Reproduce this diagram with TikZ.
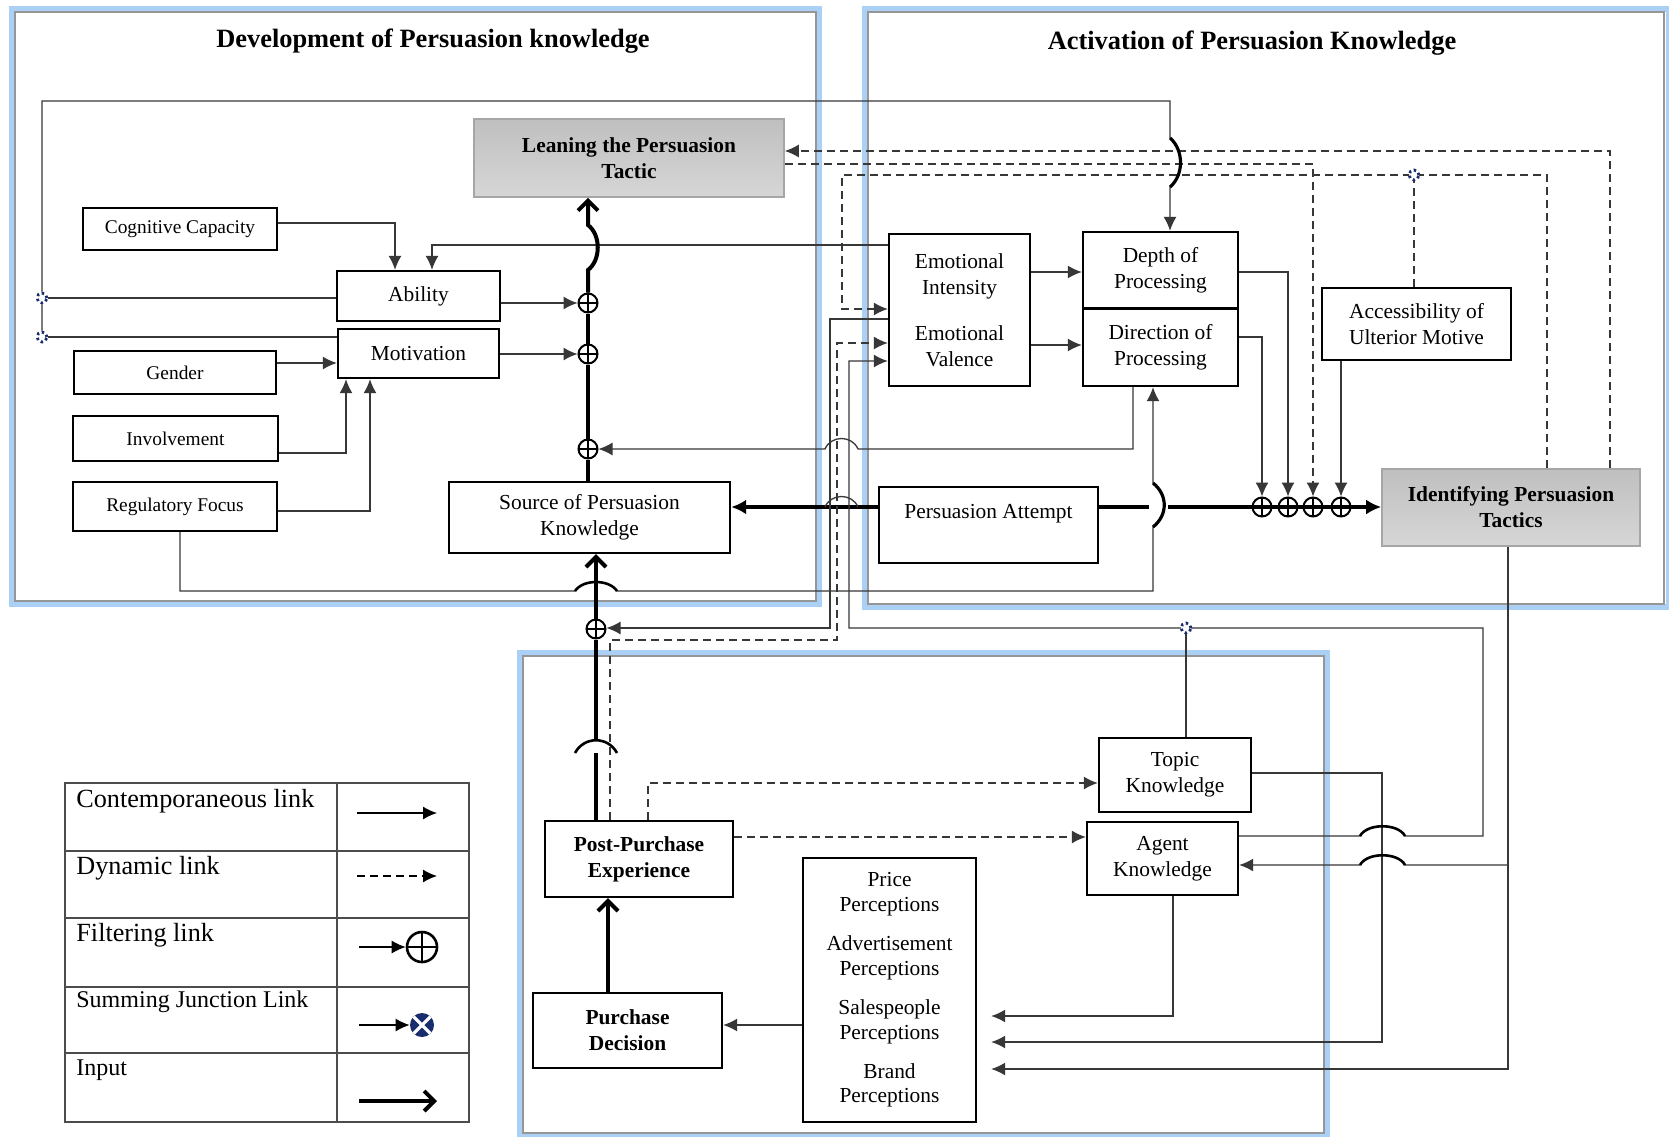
\documentclass[tikz,border=0pt]{standalone}
\usepackage{fontspec}
\setmainfont{Liberation Serif}
\usetikzlibrary{arrows.meta,calc}
\definecolor{lc}{RGB}{55,55,55}
\definecolor{panelblue}{RGB}{170,208,245}
\definecolor{panelgray}{RGB}{150,150,150}
\definecolor{navyj}{RGB}{25,45,110}
\begin{document}
\begin{tikzpicture}[x=0.5pt,y=-0.5pt,
  box/.style={draw=black, line width=1.2pt, fill=white, inner sep=1pt, align=center, font=\fontsize{10.7}{13}\selectfont},
  sbox/.style={box, font=\fontsize{9.7}{12}\selectfont},
  bbox/.style={box, font=\bfseries\fontsize{10.7}{13}\selectfont},
  gbox/.style={draw=black!35, line width=0.8pt, top color=black!25, bottom color=black!16, inner sep=1pt, align=center, font=\bfseries\fontsize{10.7}{13}\selectfont},
  txt/.style={inner sep=0pt, font=\fontsize{10.7}{13}\selectfont},
  title/.style={inner sep=0pt, font=\bfseries\fontsize{13.2}{15}\selectfont},
  leg/.style={inner sep=0pt, anchor=west, font=\fontsize{13.1}{15}\selectfont},
  legs/.style={inner sep=0pt, anchor=west, font=\fontsize{12}{14}\selectfont},
  ln/.style={draw=lc, line width=0.65pt},
  arr/.style={ln, -{Latex[length=7pt,width=6.5pt]}},
  dsh/.style={dash pattern=on 4pt off 2.5pt},
  inp/.style={draw=black, line width=2pt},
  barb/.style={inp, -{Straight Barb[length=5pt,width=10pt]}},
  inpf/.style={inp, -{Latex[length=7.5pt,width=7.5pt]}},
  hop/.style={draw=black, line width=1.3pt},
  filt/.style={circle, draw=black, line width=1pt, minimum size=9.5pt, inner sep=0pt,
    path picture={\draw[line width=1pt] (path picture bounding box.north) -- (path picture bounding box.south)
      (path picture bounding box.west) -- (path picture bounding box.east);}},
  sj/.style={circle, draw=navyj, line width=1.4pt, dash pattern=on 1.2pt off 1.5pt, minimum size=5pt, inner sep=0pt, fill=white},
  panelglow/.style={draw=panelblue, line width=3pt},
  panelline/.style={draw=panelgray, line width=0.8pt}
]
\useasboundingbox (0,0) rectangle (1669,1136);
\fill[white] (0,0) rectangle (1669,1136);

% panels
\draw[panelglow] (12,9) rectangle (819,604);
\draw[panelline] (15,12) rectangle (816,601);
\draw[panelglow] (865,9) rectangle (1669,607);
\draw[panelline] (868,12) rectangle (1664,604);
\draw[panelglow] (520,653) rectangle (1327,1136);
\draw[panelline] (523,656) rectangle (1324,1133);

% titles
\node[title] (t1) at (433,41) {Development of Persuasion knowledge};
\node[title] (t2) at (1252,43) {Activation of Persuasion Knowledge};

% boxes
\node[gbox, minimum width=155pt, minimum height=39pt] (leaning) at (629,158) {Leaning the Persuasion\\Tactic};
\node[sbox, minimum width=97pt, minimum height=21pt] (cogcap) at (180,229) {Cognitive Capacity};
\node[box, minimum width=81.5pt, minimum height=25pt] (ability) at (418.5,296) {Ability};
\node[box, minimum width=80.5pt, minimum height=24.5pt] (motivation) at (418.5,353.5) {Motivation};
\node[sbox, minimum width=101pt, minimum height=21.5pt] (gender) at (175,372.5) {Gender};
\node[sbox, minimum width=102.5pt, minimum height=22.5pt] (involvement) at (175.5,438.5) {Involvement};
\node[sbox, minimum width=102pt, minimum height=24.5pt] (regfocus) at (175,506.5) {Regulatory Focus};
\node[box, minimum width=140.5pt, minimum height=35.5pt] (source) at (589.5,517.5) {Source of Persuasion\\Knowledge};
\node[box, minimum width=70.5pt, minimum height=76pt] (emo) at (959.5,310) {Emotional\\Intensity\\[10pt]Emotional\\Valence};
\node[box, minimum width=77.5pt, minimum height=38pt] (depth) at (1160.5,270) {Depth of\\Processing};
\node[box, minimum width=77.5pt, minimum height=38.5pt] (direction) at (1160.5,347.5) {Direction of\\Processing};
\node[box, minimum width=94.5pt, minimum height=36pt] (aum) at (1416.5,324) {Accessibility of\\Ulterior Motive};
\node[gbox, minimum width=129pt, minimum height=38.5pt] (ipt) at (1511,507.5) {Identifying Persuasion\\Tactics};
\node[box, minimum width=109.5pt, minimum height=38pt] (pa) at (988.5,525) {};
\node[txt] (patext) at (988.5,514) {Persuasion Attempt};
\node[bbox, minimum width=94pt, minimum height=38pt] (ppe) at (639,859) {Post-Purchase\\Experience};
\node[box, minimum width=76pt, minimum height=37pt] (topic) at (1175,775) {Topic\\Knowledge};
\node[box, minimum width=75.5pt, minimum height=36.5pt] (agent) at (1162.5,858.5) {Agent\\Knowledge};
\node[box, minimum width=86.5pt, minimum height=132pt, font=\fontsize{10.7}{12.3}\selectfont] (percep) at (889.5,990) {Price\\Perceptions\\[7.3pt]Advertisement\\Perceptions\\[7.3pt]Salespeople\\Perceptions\\[7.3pt]Brand\\Perceptions};
\node[bbox, minimum width=94.5pt, minimum height=37.5pt] (purchase) at (627.5,1030.5) {Purchase\\Decision};

% filters
\node[filt] (f1) at (588,303) {};
\node[filt] (f2) at (588,354) {};
\node[filt] (f3) at (588,449) {};
\node[filt] (f4) at (596,629) {};
\node[filt] (g1) at (1262,507) {};
\node[filt] (g2) at (1288,507) {};
\node[filt] (g3) at (1313,507) {};
\node[filt] (g4) at (1341,507) {};

% development panel links
\draw[arr] (cogcap.east |- 0,223) -- (395,223) -- (ability.north -| 395,0);
\draw[arr] (emo.west |- 0,245) -- (432,245) -- (ability.north -| 432,0);
\draw[arr] (gender.east |- 0,363) -- (motivation.west |- 0,363);
\draw[arr] (involvement.east |- 0,453) -- (346,453) -- (motivation.south -| 346,0);
\draw[arr] (regfocus.east |- 0,511) -- (370,511) -- (motivation.south -| 370,0);
\draw[arr] (ability.east |- f1) -- (f1.west);
\draw[arr] (motivation.east |- f2) -- (f2.west);

% upper input path
\draw[inp] (source.north -| f3) -- (f3.south);
\draw[inp] (f3.north) -- (f2.south);
\draw[inp] (f2.north) -- (f1.south);
\draw[barb] (f1.north) -- (588,270) .. controls (601,260) and (601,235) .. (588,225) -- (leaning.south -| f1);

% lower input path
\draw[inp] (ppe.north -| f4) -- (596,753);
\draw[inp] (596,739) -- (f4.south);
\draw[hop] (575,753) .. controls (584,736) and (608,736) .. (617,753);
\draw[barb] (f4.north) -- (source.south -| f4);
\draw[barb] (purchase.north -| 608,0) -- (ppe.south -| 608,0);

% persuasion attempt
\draw[inpf] (pa.west |- 0,507) -- (source.east |- 0,507);
\draw[ln] (825,507) .. controls (831,493) and (852,493) .. (858,507);
\draw[inp] (pa.east |- 0,507) -- (1149,507);
\draw[inpf] (1168,507) -- (ipt.west |- 0,507);

% regulatory focus loop to direction
\draw[arr] (regfocus.south -| 180,0) -- (180,591) -- (575,591) .. controls (583,579) and (609,579) .. (617,591) -- (1153,591) -- (1153,527) .. controls (1168,515) and (1168,495) .. (1153,483) -- (direction.south -| 1153,0);
\draw[hop] (575,591) .. controls (583,579) and (609,579) .. (617,591);
\draw[hop, line width=1.6pt] (1153,527) .. controls (1168,515) and (1168,495) .. (1153,483);

% direction -> f3
\draw[arr] (direction.south -| 1133,0) -- (1133,449) -- (858,449) .. controls (852,435) and (831,435) .. (825,449) -- (f3.east);

% emotional -> depth / direction
\draw[arr] (emo.east |- 0,272) -- (depth.west |- 0,272);
\draw[arr] (emo.east |- 0,345) -- (direction.west |- 0,345);

% processing -> filters
\draw[arr] (depth.east |- 0,272) -- (1288,272) -- (g2.north);
\draw[arr] (direction.east |- 0,337) -- (1262,337) -- (g1.north);
\draw[arr] (aum.south -| g4) -- (g4.north);
\draw[arr, dsh] (leaning.east |- 0,164) -- (1313,164) -- (g3.north);

% dynamic feedback from IPT
\draw[arr, dsh] (ipt.north -| 1610,0) -- (1610,151) -- (leaning.east |- 0,151);
\draw[arr, dsh] (ipt.north -| 1547,0) -- (1547,175) -- (842,175) -- (842,309) -- (emo.west |- 0,309);

% emotional to lower filter
\draw[arr] (emo.west |- 0,319) -- (830,319) -- (830,628) -- (f4.east |- 0,628);
% post purchase dynamic to emotional
\draw[arr, dsh] (ppe.north -| 610,0) -- (610,640) -- (837,640) -- (837,343) -- (emo.west |- 0,343);
% agent knowledge to emotional
\draw[arr] (agent.east |- 0,836) -- (1360,836) .. controls (1367,823) and (1398,823) .. (1405,836) -- (1483,836) -- (1483,628) -- (849,628) -- (849,361) -- (emo.west |- 0,361);

% post-purchase dynamic links
\draw[arr, dsh] (ppe.north -| 648,0) -- (648,783) -- (topic.west |- 0,783);
\draw[arr, dsh] (ppe.east |- 0,837) -- (agent.west |- 0,837);

% knowledge to perceptions
\draw[arr, shorten >=7pt] (topic.east |- 0,773) -- (1382,773) -- (1382,1042) -- (percep.east |- 0,1042);
\draw[arr, shorten >=7pt] (agent.south -| 1173,0) -- (1173,1016) -- (percep.east |- 0,1016);
\draw[arr, shorten >=7pt] (ipt.south -| 1508,0) -- (1508,1069) -- (percep.east |- 0,1069);
\draw[arr] (1508,865) -- (1405,865) .. controls (1398,852) and (1367,852) .. (1360,865) -- (agent.east |- 0,865);
\draw[hop] (1360,836) .. controls (1367,823) and (1398,823) .. (1405,836);
\draw[hop] (1405,865) .. controls (1398,852) and (1367,852) .. (1360,865);
\draw[arr] (percep.west |- 0,1025) -- (purchase.east |- 0,1025);

% left loop to depth
\node[sj] (sj1) at (42,298) {};
\node[sj] (sj2) at (42,337) {};
\draw[ln] (ability.west |- sj1) -- (sj1);
\draw[ln] (motivation.west |- sj2) -- (sj2);
\draw[arr] (sj2) -- (sj1) -- (42,101) -- (1170,101) -- (1170,138) .. controls (1184,150) and (1184,175) .. (1170,187) -- (depth.north -| 1170,0);
\draw[hop, line width=1.6pt] (1170,138) .. controls (1184,150) and (1184,175) .. (1170,187);

% summing junctions on top
\node[sj] (sj3) at (1414,175) {};
\draw[ln, dsh] (aum.north -| sj3) -- (sj3);
\node[sj] (sj4) at (1186,628) {};
\draw[ln] (topic.north -| sj4) -- (sj4);

% legend
\draw[black!70, line width=0.9pt] (65,783) rectangle (469,1122);
\draw[black!70, line width=0.9pt] (337,783) -- (337,1122);
\foreach \yy in {851,918,987,1053} \draw[black!70, line width=0.9pt] (65,\yy) -- (469,\yy);
\node[leg] (l1) at (76,801) {Contemporaneous link};
\node[leg] (l2) at (76,868) {Dynamic link};
\node[leg] (l3) at (76,935) {Filtering link};
\node[legs] (l4) at (76,1002) {Summing Junction Link};
\node[legs] (l5) at (76,1070) {Input};
\coordinate (la1) at (357,813); \coordinate (lb1) at (437,813);
\draw[arr, draw=black] (la1) -- (lb1);
\coordinate (la2) at (357,876); \coordinate (lb2) at (437,876);
\draw[arr, dsh, draw=black] (la2) -- (lb2);
\node[filt, minimum size=15pt, line width=1.3pt] (lf) at (422,947) {};
\coordinate (la3) at (359,947);
\draw[arr, draw=black] (la3) -- (lf.west);
\node[circle, fill=navyj, minimum size=12pt, inner sep=0pt,
  path picture={\draw[white, line width=1.6pt] (path picture bounding box.north west) -- (path picture bounding box.south east) (path picture bounding box.north east) -- (path picture bounding box.south west);}] (ls) at (422,1025) {};
\coordinate (la4) at (359,1025);
\draw[arr, draw=black] (la4) -- (ls.west);
\coordinate (la5) at (359,1101); \coordinate (lb5) at (437,1101);
\draw[barb] (la5) -- (lb5);
\end{tikzpicture}
\end{document}
